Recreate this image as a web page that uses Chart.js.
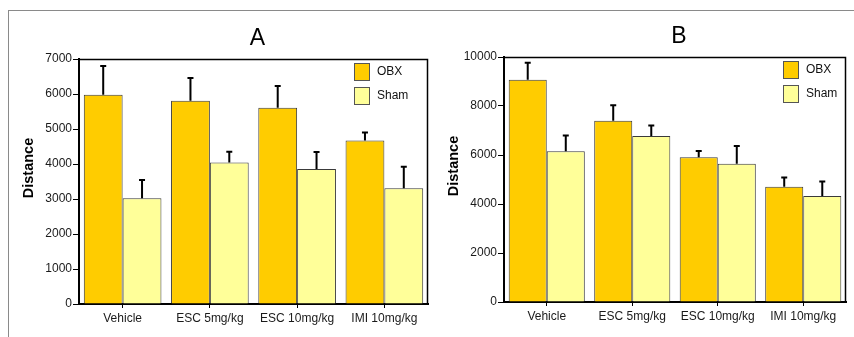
<!DOCTYPE html>
<html>
<head>
<meta charset="utf-8">
<script src="https://cdn.jsdelivr.net/npm/chart.js@4.4.0/dist/chart.umd.min.js"></script>
<style>
body { margin: 0; background: #fff; width: 854px; height: 337px; overflow: hidden; position: relative; }
#frame { position: absolute; left: 8px; top: 10px; right: 0; bottom: -2px; border-top: 1px solid #8a8a8a; border-left: 1px solid #8a8a8a; }
.panel { position: absolute; top: 0; height: 337px; }
</style>
</head>
<body>
<div id="frame"></div>
<div class="panel" style="left:0;width:432px"><canvas id="chartA" width="432" height="337"></canvas></div>
<div class="panel" style="left:432px;width:422px"><canvas id="chartB" width="422" height="337"></canvas></div>
<script>
// values (mean and SEM)
const categories = ['Vehicle', 'ESC 5mg/kg', 'ESC 10mg/kg', 'IMI 10mg/kg'];
const seriesNames = ['OBX', 'Sham'];

const obxA = [5980, 5810, 5610, 4670];
const obxSemA = [820, 650, 620, 230];
const shamA = [3020, 4040, 3860, 3310];
const shamSemA = [520, 310, 480, 610];

const obxB = [9070, 7400, 5910, 4700];
const obxSemB = [700, 630, 250, 380];
const shamB = [6150, 6780, 5640, 4330];
const shamSemB = [650, 420, 730, 590];

const yMaxA = 7000, yStepA = 1000;
const yMaxB = 10000, yStepB = 2000;

const FONT = '"Liberation Sans", Arial, sans-serif';
const colors = ['#ffcc00', '#ffff99'];

const decor = {
	id: 'decor',
	afterDatasetsDraw(chart, args, opts) {
		const ctx = chart.ctx;
		const y = chart.scales.y;
		ctx.save();
		ctx.strokeStyle = '#000';
		ctx.lineWidth = 2;
		chart.data.datasets.forEach((ds, i) => {
			chart.getDatasetMeta(i).data.forEach((bar, j) => {
				const top = y.getPixelForValue(ds.data[j] + ds.sem[j]);
				ctx.beginPath();
				ctx.moveTo(bar.x, bar.y);
				ctx.lineTo(bar.x, top);
				ctx.moveTo(bar.x - 3, top);
				ctx.lineTo(bar.x + 3, top);
				ctx.stroke();
			});
		});
		ctx.restore();
	},
	afterDraw(chart, args, opts) {
		const ctx = chart.ctx;
		const a = chart.chartArea;
		ctx.save();
		// thin top / right border of the plot box
		ctx.strokeStyle = '#000';
		ctx.lineWidth = 1.5;
		ctx.beginPath();
		ctx.moveTo(a.left, a.top + 0.5);
		ctx.lineTo(a.right - 0.5, a.top + 0.5);
		ctx.lineTo(a.right - 0.5, a.bottom);
		ctx.stroke();

		// panel letter
		ctx.fillStyle = '#000';
		ctx.textAlign = 'center';
		ctx.textBaseline = 'middle';
		ctx.font = '23px ' + FONT;
		ctx.fillText(opts.letter, (a.left + a.right) / 2 + 4, a.top - 20);

		// y axis title
		ctx.save();
		ctx.translate(a.left - 50, a.top + 109);
		ctx.rotate(-Math.PI / 2);
		ctx.font = 'bold 14.5px ' + FONT;
		ctx.fillText('Distance', 0, 0);
		ctx.restore();

		// legend
		ctx.textAlign = 'left';
		ctx.font = '12px ' + FONT;
		chart.data.datasets.forEach((ds, i) => {
			const bx = a.right - opts.legendRight;
			const by = a.top + 4 + i * 24;
			ctx.fillStyle = ds.backgroundColor;
			ctx.fillRect(bx, by, 15, 17);
			ctx.strokeStyle = '#555';
			ctx.lineWidth = 1;
			ctx.strokeRect(bx + 0.5, by + 0.5, 15, 17);
			ctx.fillStyle = '#111';
			ctx.fillText(ds.label, bx + 23, by + 8.5);
		});
		ctx.restore();
	}
};

function makeChart(id, obx, obxSem, sham, shamSem, yMax, yStep, box, letter, legendRight) {
	const canvas = document.getElementById(id);
	return new Chart(canvas, {
		type: 'bar',
		data: {
			labels: categories,
			datasets: [
				{ label: seriesNames[0], data: obx, sem: obxSem, backgroundColor: colors[0] },
				{ label: seriesNames[1], data: sham, sem: shamSem, backgroundColor: colors[1] }
			]
		},
		options: {
			responsive: false,
			animation: false,
			devicePixelRatio: 1,
			layout: { padding: { top: box.top, right: canvas.width - box.right, left: 0, bottom: 0 } },
			datasets: {
				bar: {
					categoryPercentage: 0.89,
					barPercentage: 1,
					borderColor: '#3a3a3a',
					borderWidth: 1
				}
			},
			plugins: {
				legend: { display: false },
				title: { display: false },
				tooltip: { enabled: false },
				decor: { letter: letter, legendRight: legendRight }
			},
			scales: {
				x: {
					afterFit(scale) { scale.height = canvas.height - box.bottom; },
					grid: { display: true, drawOnChartArea: false, offset: false, tickLength: 4, color: '#000', tickWidth: 1 },
					border: { display: true, color: '#000', width: 2 },
					ticks: { color: '#1a1a1a', padding: 3, maxRotation: 0, autoSkip: false, font: { family: FONT, size: 12 } }
				},
				y: {
					min: 0,
					max: yMax,
					afterFit(scale) { scale.width = box.left; },
					grid: { display: true, drawOnChartArea: false, tickLength: 6, color: '#000', tickWidth: 1 },
					border: { display: true, color: '#000', width: 2 },
					ticks: {
						stepSize: yStep,
						color: '#1a1a1a',
						padding: 1,
						font: { family: FONT, size: 12 },
						callback: (v) => String(v)
					}
				}
			}
		},
		plugins: [decor]
	});
}

makeChart('chartA', obxA, obxSemA, shamA, shamSemA, yMaxA, yStepA, { left: 79, right: 428, top: 59, bottom: 304 }, 'A', 74);
makeChart('chartB', obxB, obxSemB, shamB, shamSemB, yMaxB, yStepB, { left: 72, right: 414, top: 57, bottom: 302 }, 'B', 63);
</script>
</body>
</html>
